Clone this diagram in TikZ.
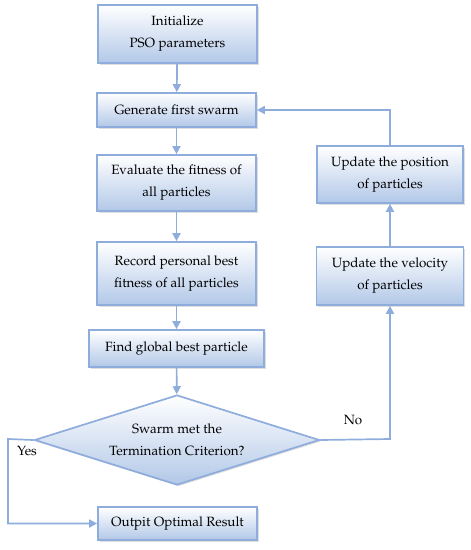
\documentclass[tikz,border=0pt]{standalone}
\usepackage[T1]{fontenc}
\usepackage{mathpazo}
\usepackage{xcolor}
\usetikzlibrary{arrows.meta,shapes.geometric,shadows}
\definecolor{lineblue}{RGB}{142,172,220}
\definecolor{boxblue}{RGB}{178,200,232}

\begin{document}
\begin{tikzpicture}[x=1pt,y=-1pt,
  stepbox/.style={draw=lineblue,line width=1.7pt,top color=white,bottom color=boxblue,
    align=center,inner sep=2pt,font=\fontsize{13.4}{22}\selectfont,
    drop shadow={opacity=0.25,shadow xshift=1.5pt,shadow yshift=-1.5pt}},
  decbox/.style={stepbox,shape=diamond,aspect=3.2,inner sep=0pt},
  arr/.style={draw=lineblue,line width=1.7pt,-{Triangle[length=8pt,width=8pt]}},
  lbl/.style={font=\fontsize{13.4}{16}\selectfont}]
\useasboundingbox (0,0) rectangle (471,550);
% ---- main column
\node[stepbox,minimum width=159pt,minimum height=58pt] (init) at (177.5,34) {Initialize\\PSO parameters};
\node[stepbox,minimum width=159pt,minimum height=34pt] (gen) at (176.5,110) {Generate first swarm};
\node[stepbox,minimum width=159pt,minimum height=56pt] (eval) at (176.5,183) {Evaluate the fitness of\\all particles};
\node[stepbox,minimum width=159pt,minimum height=63pt] (rec) at (176.5,273.5) {Record personal best\\fitness of all particles};
\node[stepbox,minimum width=175pt,minimum height=37pt] (find) at (176.5,348.5) {Find global best particle};
\node[decbox,minimum width=285pt,minimum height=90pt] (dec) at (177,440) {Swarm met the\\Termination Criterion?};
\node[stepbox,minimum width=159pt,minimum height=33pt] (out) at (177.5,523.5) {Outpit Optimal Result};
% ---- update column
\node[stepbox,minimum width=146pt,minimum height=57pt] (pos) at (390,174.5) {Update the position\\of particles};
\node[stepbox,minimum width=147pt,minimum height=58pt] (vel) at (390,276) {Update the velocity\\of particles};
% ---- connectors
\draw[arr] (init) -- (gen);
\draw[arr] (gen) -- (eval);
\draw[arr] (eval) -- (rec);
\draw[arr] (rec) -- (find);
\draw[arr] (find) -- (dec);
\coordinate (yesbend) at (8,439);
\coordinate (nobend) at (390,439);
\draw[arr] (dec.west) -- (yesbend) |- (out.west);
\draw[arr] (dec.east) -- (nobend) -- (vel.south);
\draw[arr] (vel) -- (pos);
\draw[arr] (pos.north) |- (gen.east);
\node[lbl] (yes) at (27,451) {Yes};
\node[lbl] (no) at (353,420) {No};
\end{tikzpicture}
\end{document}
